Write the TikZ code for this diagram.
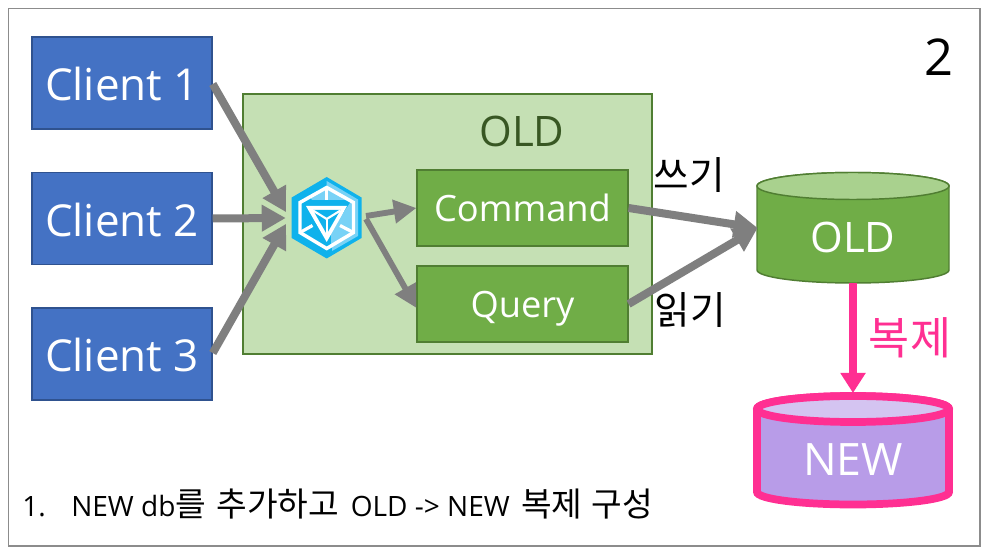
\documentclass[tikz,border=0pt]{standalone}
\usepackage{fontspec}
\setmainfont{Open Sans}
\newfontfamily\kr{Noto Sans CJK KR}
\usetikzlibrary{arrows.meta}
\definecolor{bluefill}{HTML}{4472C4}
\definecolor{blueline}{HTML}{2F528F}
\definecolor{greenfill}{HTML}{70AD47}
\definecolor{greenline}{HTML}{507E32}
\definecolor{palegreen}{HTML}{C5E0B4}
\definecolor{cyltop}{HTML}{A9D18E}
\definecolor{darkolive}{HTML}{385723}
\definecolor{arrowgray}{HTML}{7F7F7F}
\definecolor{hotpink}{HTML}{FF2F92}
\definecolor{purplefill}{HTML}{B89CE8}
\definecolor{purpletop}{HTML}{D4C4F1}
\definecolor{hubblue}{HTML}{0FB2EC}
\definecolor{hublight}{HTML}{78D2F6}
\tikzset{
  x=0.75pt,y=-0.75pt,
  clientbox/.style={draw=blueline,fill=bluefill,line width=1.1pt,minimum width=135pt,minimum height=69pt,inner sep=0pt,text=white,text height=34pt,text depth=7pt,font=\fontsize{33}{36}\selectfont},
  cqbox/.style={draw=greenline,fill=greenfill,line width=1.1pt,minimum width=158pt,minimum height=57pt,inner sep=0pt,text=white,text height=27pt,text depth=6pt,font=\fontsize{27.2}{30}\selectfont},
  bigflow/.style={draw=arrowgray,line width=6pt,-{Triangle[length=18pt,width=19pt]},shorten >=-0.2pt},
  smallflow/.style={draw=arrowgray,line width=4.4pt,-{Triangle[length=17pt,width=17pt]}},
  pinkflow/.style={draw=hotpink,line width=6pt,-{Triangle[length=15pt,width=18pt]}},
  krlabel/.style={inner sep=0pt,font=\kr\fontsize{29}{32}\selectfont},
  cyllabel/.style={inner sep=0pt,text=white,font=\fontsize{31.5}{34}\selectfont}
}
\begin{document}
\begin{tikzpicture}
\useasboundingbox (0,0) rectangle (988,555);
\fill[white] (0,0) rectangle (988,555);
\draw[draw=gray!90,line width=1.1pt] (8.5,8.5) rectangle (980,546);

% OLD container
\node[draw=greenline,fill=palegreen,line width=1.1pt,minimum width=306.5pt,minimum height=195pt,inner sep=0pt] (oldarea) at (447.5,224) {};
\node[inner sep=0pt,text=darkolive,font=\fontsize{31.5}{34}\selectfont] (oldtitle) at (522,131) {OLD};

% Clients
\node[clientbox] (c1) at (122,83) {Client 1};
\node[clientbox] (c2) at (122,218.5) {Client 2};
\node[clientbox] (c3) at (122,354) {Client 3};

\node[cqbox] (cmd) at (522.5,208) {Command};
\node[cqbox] (qry) at (522.5,304) {Query};

% Hub logo
\begin{scope}
\fill[hubblue] (326.7,177) -- (361.5,197.5) -- (361.5,238) -- (326.7,258.5) -- (291.7,238) -- (291.7,197.5) -- cycle;
\fill[hublight] (326.7,181) -- (358,199.5) -- (358,236) -- (332,251) -- (332,240) -- (352,229) -- (352,203) -- (326.7,188) -- cycle;
\fill[hublight] (326.7,188) -- (353.5,202.5) -- (353.5,232.5) -- (331,245.5) -- (331,231) -- (352,200) -- (312,200) -- (310,197) -- cycle;
\draw[white,line width=2.6pt,line join=miter] (326.7,187.5) -- (353.5,202.5) -- (353.5,232.5) -- (326.7,248.5) -- (300,232.5) -- (300,202.5) -- cycle;
\draw[white,line width=2.4pt] (326.7,188) -- (326.7,200.5);
\draw[white,line width=2.4pt] (300,232.5) -- (312.5,225.5);
\draw[white,line width=2.4pt] (353.5,232.5) -- (340,225.5);
\fill[white] (306,206) -- (347,206) -- (326.7,242) -- cycle;
\fill[hubblue] (313,210) -- (340.5,210) -- (326.7,234) -- cycle;
\draw[white,line width=1.6pt] (326.7,219) -- (326.7,235);
\draw[white,line width=1.6pt] (326.7,219) -- (313,210.5);
\draw[white,line width=1.6pt] (326.7,219) -- (340.5,210.5);
\end{scope}
\node[inner sep=0pt,minimum width=52.5pt,minimum height=61pt] (hub) at (326.7,217.7) {};
\coordinate (hubin1) at (286,212);
\coordinate (hubin2) at (285.5,218);
\coordinate (hubin3) at (286,224);
\coordinate (hubout1) at (366,216);
\coordinate (hubout2) at (366,219);

% OLD cylinder
\path[fill=greenfill,draw=greenline,line width=1.1pt] (757,186) -- (757,270) arc[start angle=180,end angle=0,x radius=96,y radius=13] -- (949,186) arc[start angle=0,end angle=-180,x radius=96,y radius=13.5] -- cycle;
\draw[fill=cyltop,draw=greenline,line width=1.1pt] (853,186) ellipse[x radius=96,y radius=13.5];
\node[inner sep=0pt,minimum width=144pt,minimum height=83pt] (olddb) at (853,227.5) {};
\node[cyllabel] (olddblabel) at (853,237) {OLD};

% NEW cylinder
\path[fill=purplefill,draw=hotpink,line width=5.8pt] (757,409) -- (757,492) arc[start angle=180,end angle=0,x radius=96,y radius=12.5] -- (949,409) arc[start angle=0,end angle=-180,x radius=96,y radius=13] -- cycle;
\draw[fill=purpletop,draw=hotpink,line width=5.8pt] (853,409) ellipse[x radius=96,y radius=13];
\node[inner sep=0pt,minimum width=144pt,minimum height=83pt] (newdb) at (853,449) {};
\node[cyllabel,font=\fontsize{33.5}{36}\selectfont] (newdblabel) at (853,460) {NEW};

% Connectors
\draw[bigflow] (c1.east) ++(0,1) -- (hubin1);
\draw[bigflow] (c2.east) -- (hubin2);
\draw[bigflow] (c3.east) ++(0,-1) -- (hubin3);
\draw[smallflow] (hubout1) -- (cmd.west);
\draw[smallflow] (hubout2) -- ([yshift=-3pt]qry.west);
\coordinate (oldin) at (757.5,228);
\draw[bigflow] (cmd.east) -- (oldin);
\draw[bigflow] (qry.east) -- (oldin);
\coordinate (newin) at (853,393);
\draw[pinkflow] (853,283) -- (newin);

% Labels
\node[krlabel] (wr) at (689.5,175) {쓰기};
\node[krlabel] (rd) at (690.5,310) {읽기};
\node[krlabel,text=hotpink,font=\kr\fontsize{33.5}{36}\selectfont] (rep) at (910,338) {복제};
\node[inner sep=0pt,font=\fontsize{38}{42}\selectfont] (two) at (939,57) {2};
\node[inner sep=0pt,anchor=base west,font=\fontsize{21}{26}\selectfont] (num) at (22,516) {1.};
\node[inner sep=0pt,anchor=base west,font=\fontsize{21}{26}\selectfont] (cap) at (71,516) {NEW db{\kr\fontsize{25}{26}\selectfont 를\hspace{2.2pt} 추가하고}\hspace{3.3pt} OLD -> NEW\hspace{3pt} {\kr\fontsize{25}{26}\selectfont 복제 \hspace{1.2pt}구성}};
\end{tikzpicture}
\end{document}
